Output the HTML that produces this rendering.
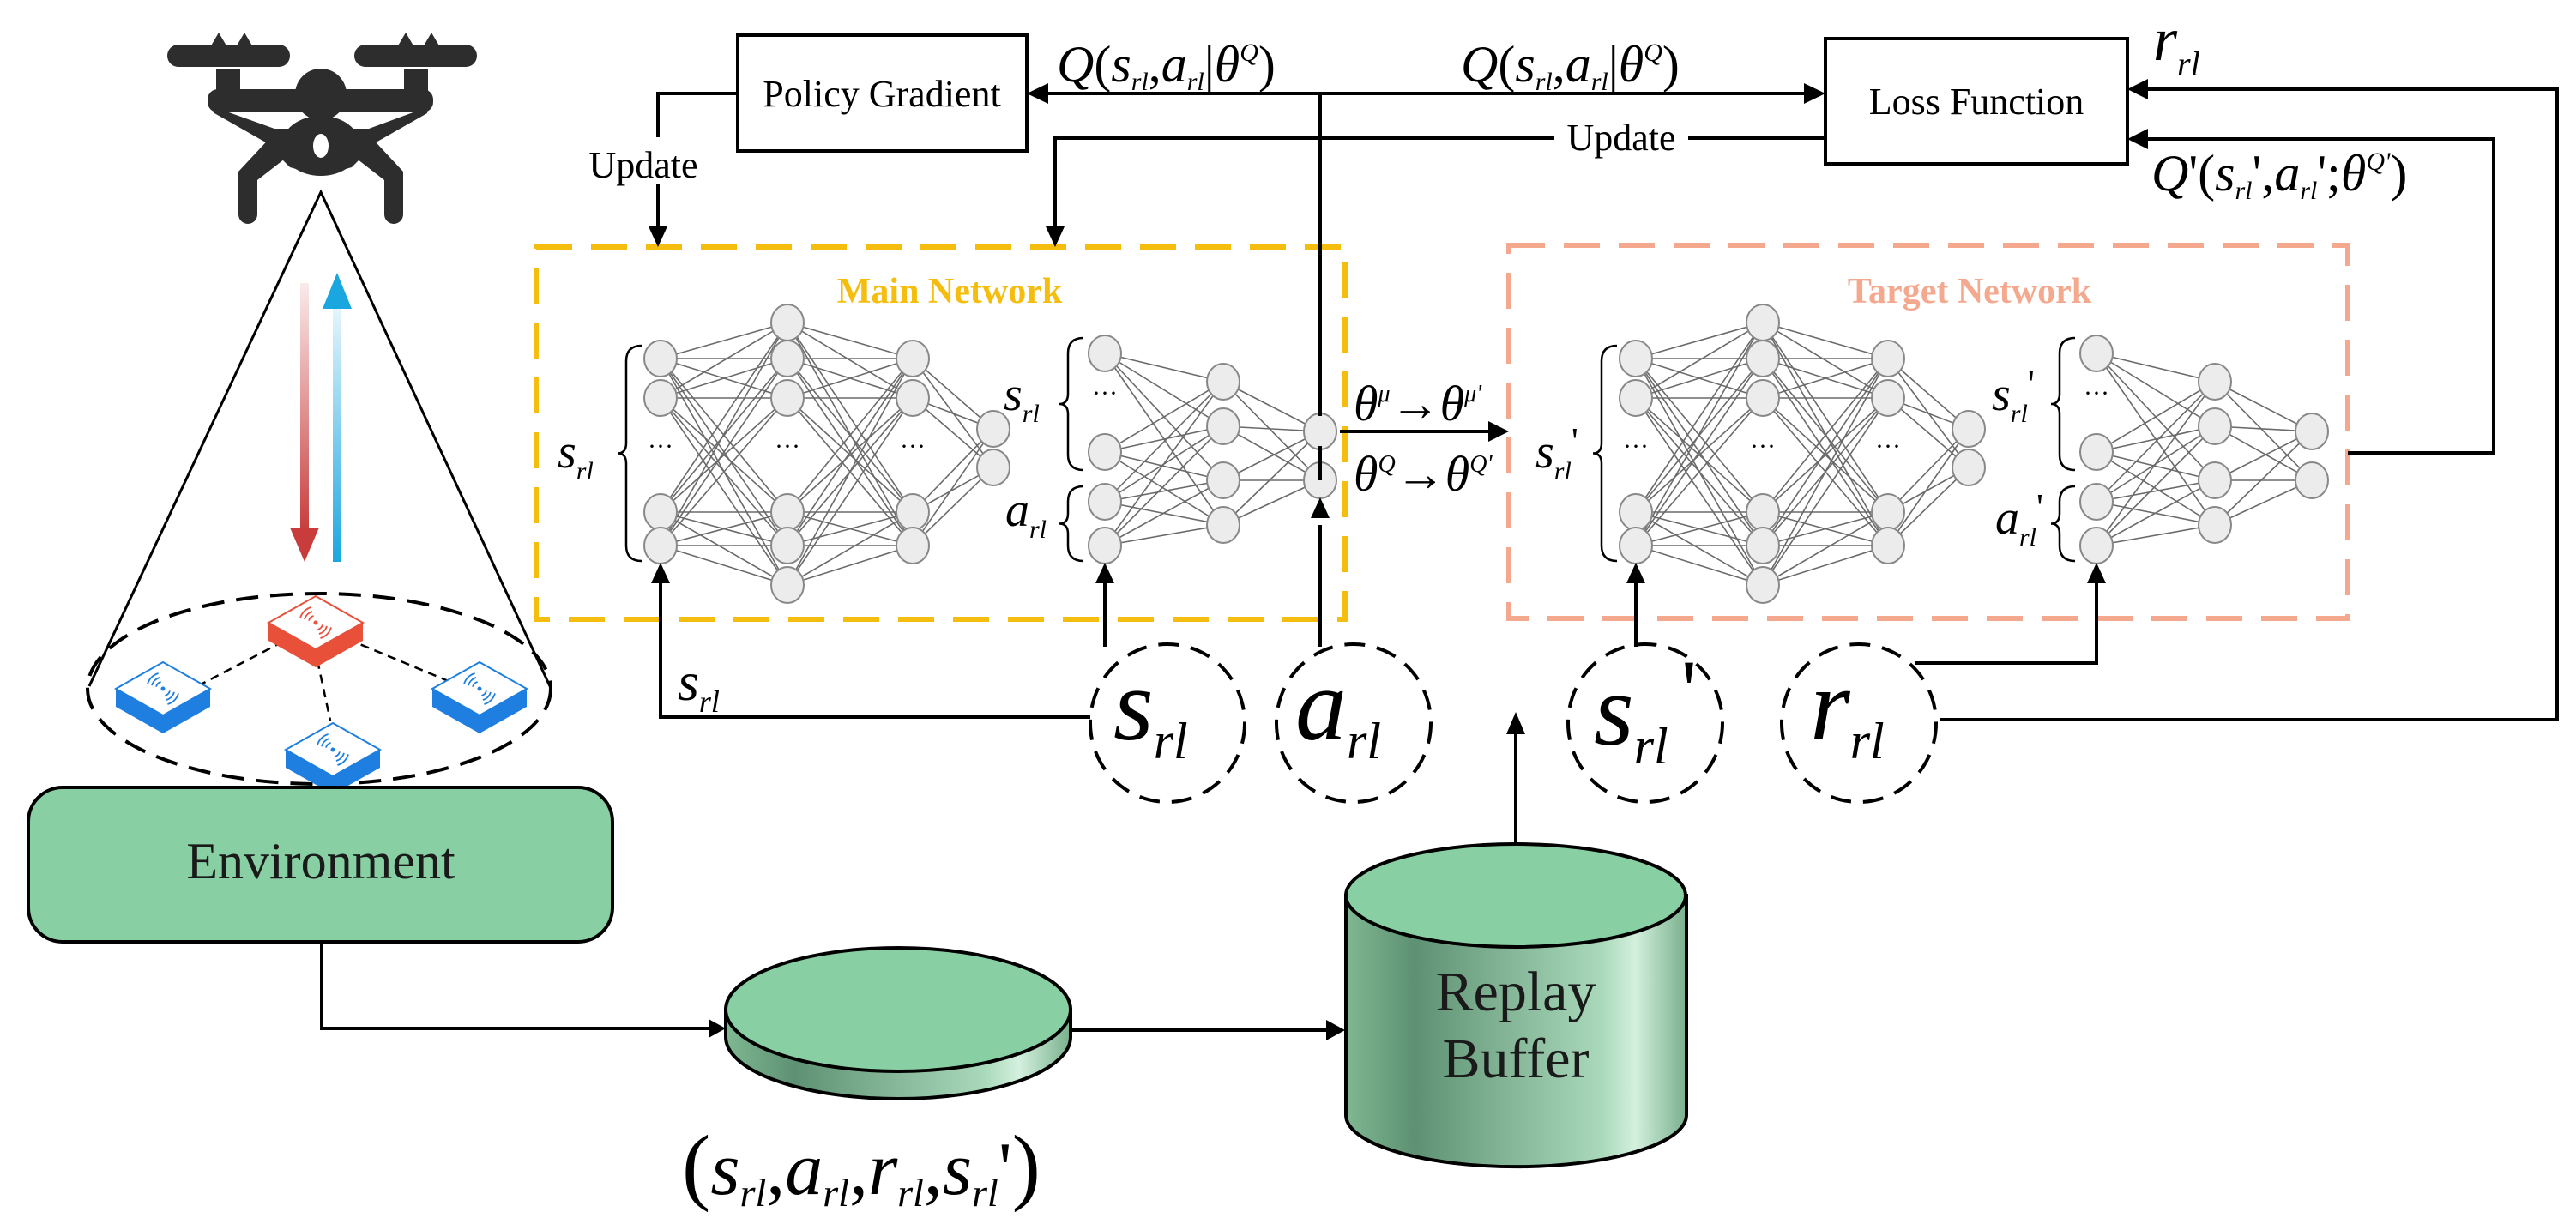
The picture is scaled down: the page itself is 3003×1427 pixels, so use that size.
<!DOCTYPE html>
<html><head><meta charset="utf-8"><style>
html,body{margin:0;padding:0;background:#fff;}
svg{display:block;}
text{font-family:"Liberation Serif",serif;}
.m{font-style:italic;}
</style></head><body>
<svg id="s" xmlns="http://www.w3.org/2000/svg" width="3003" height="1427" viewBox="0 0 3003 1427" font-family="Liberation Serif, serif">
<defs>
<linearGradient id="cyl" x1="0" x2="1" y1="0" y2="0">
<stop offset="0" stop-color="#7fb892"/><stop offset="0.2" stop-color="#5e9173"/><stop offset="0.75" stop-color="#a9d9ba"/><stop offset="0.85" stop-color="#d4f0de"/><stop offset="1" stop-color="#78b08c"/>
</linearGradient>
<linearGradient id="redA" x1="0" y1="0" x2="0" y2="1"><stop offset="0" stop-color="#c83c3c" stop-opacity="0.1"/><stop offset="1" stop-color="#c83c3c"/></linearGradient>
<linearGradient id="blueA" x1="0" y1="1" x2="0" y2="0"><stop offset="0" stop-color="#1aa7e0" stop-opacity="0.1"/><stop offset="1" stop-color="#1aa7e0"/></linearGradient>
</defs>

<!-- drone -->
<g fill="#2d2d2d">
<rect x="195" y="52" width="143" height="26" rx="13"/>
<rect x="413" y="52" width="143" height="26" rx="13"/>
<path d="M245 55 L255 38 L265 55 Z M275 55 L285 38 L295 55 Z M463 55 L473 38 L483 55 Z M493 55 L503 38 L513 55 Z"/>
<rect x="252" y="80" width="28" height="30"/>
<rect x="471" y="80" width="28" height="30"/>
<ellipse cx="374" cy="110" rx="30" ry="30"/>
<rect x="242" y="104" width="263" height="27" rx="12"/>
<path d="M250 125 L320 150 L350 150 L400 150 L430 150 L498 125 L498 132 L440 165 L410 195 L374 205 L338 195 L308 165 L250 132 Z"/>
<ellipse cx="374" cy="170" rx="46" ry="35"/>
<path d="M320 155 L278 200 L278 250 A11 11 0 0 0 300 250 L300 210 L345 175 Z"/>
<path d="M428 155 L470 200 L470 250 A11 11 0 0 1 448 250 L448 210 L403 175 Z"/>
</g>
<ellipse cx="374" cy="170" rx="9" ry="14" fill="#fff"/>

<!-- cone -->
<path d="M104 800 L374 224 L641 800" fill="none" stroke="#000" stroke-width="3"/>
<ellipse cx="372" cy="803" rx="270" ry="111" fill="none" stroke="#000" stroke-width="4" stroke-dasharray="26,14"/>
<rect x="350" y="330" width="10" height="290" fill="url(#redA)"/>
<path d="M338 615 L372 615 L355 655 Z" fill="#c83c3c"/>
<rect x="388" y="355" width="10" height="300" fill="url(#blueA)" transform="rotate(180 393 505)"/>
<path d="M376 360 L410 360 L393 318 Z" fill="#1aa7e0"/>

<g stroke="#000" stroke-width="2.5" stroke-dasharray="10,7" fill="none">
<line x1="330" y1="748" x2="230" y2="800"/>
<line x1="405" y1="745" x2="525" y2="795"/>
<line x1="370" y1="770" x2="385" y2="840"/>
</g>
<g id="devs"></g>

<!-- environment -->
<rect x="33" y="918" width="681" height="180" rx="40" fill="#88cfa3" stroke="#000" stroke-width="4"/>
<text x="374" y="1024" font-size="60" text-anchor="middle" fill="#1a1a1a">Environment</text>

<path d="M375 1098 L375 1199 L830 1199" fill="none" stroke="#000" stroke-width="4"/>
<path d="M846 1199 L826 1188 L826 1210 Z"/>
<path d="M846 1177 L846 1209 A201 72 0 0 0 1248 1209 L1248 1177 Z" fill="url(#cyl)" stroke="#000" stroke-width="4"/>
<ellipse cx="1047" cy="1177" rx="201" ry="72" fill="#88cfa3" stroke="#000" stroke-width="4"/>
<path d="M1250 1201 L1550 1201" stroke="#000" stroke-width="4"/>
<path d="M1568 1201 L1546 1189 L1546 1213 Z"/>
<path d="M1569 1044 L1569 1300 A198 60 0 0 0 1966 1300 L1966 1044 Z" fill="url(#cyl)" stroke="#000" stroke-width="4"/>
<ellipse cx="1767" cy="1044" rx="198" ry="60" fill="#88cfa3" stroke="#000" stroke-width="4"/>
<text x="1767" y="1178" font-size="66" text-anchor="middle" fill="#1a1a1a">Replay</text>
<text x="1767" y="1256" font-size="66" text-anchor="middle" fill="#1a1a1a">Buffer</text>
<path d="M1767 984 L1767 850" stroke="#000" stroke-width="4"/>
<path d="M1767 830 L1756 856 L1778 856 Z"/>

<text x="795" y="1392" font-size="88"><tspan font-size="100">(</tspan><tspan class="m">s</tspan><tspan class="m" font-size="46" dy="14">rl</tspan><tspan dy="-14">,</tspan><tspan class="m">a</tspan><tspan class="m" font-size="46" dy="14">rl</tspan><tspan dy="-14">,</tspan><tspan class="m">r</tspan><tspan class="m" font-size="46" dy="14">rl</tspan><tspan dy="-14">,</tspan><tspan class="m">s</tspan><tspan class="m" font-size="46" dy="14">rl</tspan><tspan dy="-14">'</tspan><tspan font-size="100">)</tspan></text>

<rect x="625" y="288" width="943" height="434" fill="none" stroke="#f5be0e" stroke-width="6" stroke-dasharray="42,22"/>
<text x="1107" y="353" font-size="42" font-weight="bold" text-anchor="middle" fill="#f5be0e">Main Network</text>
<rect x="1759" y="286" width="978" height="435" fill="none" stroke="#f4a98f" stroke-width="6" stroke-dasharray="42,22"/>
<text x="2296" y="353" font-size="42" font-weight="bold" text-anchor="middle" fill="#f4a98f">Target Network</text>
<g id="nets"></g>

<rect x="860" y="41" width="337" height="135" fill="#fff" stroke="#000" stroke-width="4"/>
<text x="1028" y="124" font-size="44" text-anchor="middle">Policy Gradient</text>
<rect x="2128" y="45" width="352" height="146" fill="#fff" stroke="#000" stroke-width="4"/>
<text x="2304" y="133" font-size="44" text-anchor="middle">Loss Function</text>

<g stroke="#000" stroke-width="4" fill="none">
<path d="M1539 485 L1539 109"/>
<path d="M1215 109 L2110 109"/>
<path d="M2128 161 L1968 161 M1812 161 L1230 161 L1230 268"/>
<path d="M860 109 L767 109 L767 160 M767 215 L767 268"/>
<path d="M2498 104 L2981 104 L2981 839 L2262 839"/>
<path d="M2498 162 L2907 162 L2907 528 L2737 528"/>
<path d="M1562 503 L1740 503"/>
<path d="M1271 836 L770 836 L770 675"/>
<path d="M1288 754 L1288 675"/>
<path d="M1539 754 L1539 612 M1539 560 L1539 520"/>
<path d="M1907 754 L1907 675"/>
<path d="M2233 773 L2444 773 L2444 675"/>
</g>
<g fill="#000">
<path d="M1197 109 L1222 97 L1222 121 Z"/>
<path d="M2128 109 L2103 97 L2103 121 Z"/>
<path d="M1230 288 L1219 264 L1241 264 Z"/>
<path d="M767 288 L756 264 L778 264 Z"/>
<path d="M2480 104 L2504 92 L2504 116 Z"/>
<path d="M2480 162 L2504 150 L2504 174 Z"/>
<path d="M1759 503 L1735 491 L1735 515 Z"/>
<path d="M770 656 L759 680 L781 680 Z"/>
<path d="M1288 656 L1277 680 L1299 680 Z"/>
<path d="M1539 580 L1528 604 L1550 604 Z"/>
<path d="M1907 656 L1896 680 L1918 680 Z"/>
<path d="M2444 656 L2433 680 L2455 680 Z"/>
</g>
<text x="1890" y="175" font-size="44" text-anchor="middle">Update</text>
<text x="750" y="207" font-size="44" text-anchor="middle">Update</text>

<g font-size="60">
<text x="1232" y="95"><tspan class="m">Q</tspan>(<tspan class="m">s</tspan><tspan class="m" font-size="30" dy="10">rl</tspan><tspan dy="-10">,</tspan><tspan class="m">a</tspan><tspan class="m" font-size="30" dy="10">rl</tspan><tspan dy="-10">|</tspan><tspan class="m">θ</tspan><tspan class="m" font-size="30" dy="-24">Q</tspan><tspan dy="24">)</tspan></text>
<text x="1703" y="95"><tspan class="m">Q</tspan>(<tspan class="m">s</tspan><tspan class="m" font-size="30" dy="10">rl</tspan><tspan dy="-10">,</tspan><tspan class="m">a</tspan><tspan class="m" font-size="30" dy="10">rl</tspan><tspan dy="-10">|</tspan><tspan class="m">θ</tspan><tspan class="m" font-size="30" dy="-24">Q</tspan><tspan dy="24">)</tspan></text>
<text x="2510" y="70"><tspan class="m" font-size="72">r</tspan><tspan class="m" font-size="40" dy="18">rl</tspan></text>
<text x="2508" y="222"><tspan class="m">Q</tspan>'(<tspan class="m">s</tspan><tspan class="m" font-size="30" dy="10">rl</tspan><tspan dy="-10">',</tspan><tspan class="m">a</tspan><tspan class="m" font-size="30" dy="10">rl</tspan><tspan dy="-10">';</tspan><tspan class="m">θ</tspan><tspan class="m" font-size="30" dy="-24">Q'</tspan><tspan dy="24">)</tspan></text>
</g>
<g font-size="58">
<text x="1578" y="490"><tspan class="m">θ</tspan><tspan class="m" font-size="28" dy="-22">μ</tspan><tspan dy="22">→</tspan><tspan class="m">θ</tspan><tspan class="m" font-size="28" dy="-22">μ'</tspan></text>
<text x="1578" y="572"><tspan class="m">θ</tspan><tspan class="m" font-size="28" dy="-22">Q</tspan><tspan dy="22">→</tspan><tspan class="m">θ</tspan><tspan class="m" font-size="28" dy="-22">Q'</tspan></text>
</g>
<text x="790" y="816" font-size="64"><tspan class="m">s</tspan><tspan class="m" font-size="36" dy="14">rl</tspan></text>

<g fill="none" stroke="#000" stroke-width="4" stroke-dasharray="24,14">
<ellipse cx="1361" cy="843" rx="90" ry="92"/>
<ellipse cx="1578" cy="843" rx="90" ry="92"/>
<ellipse cx="1918" cy="843" rx="90" ry="92"/>
<ellipse cx="2167" cy="843" rx="90" ry="92"/>
</g>
<g font-family="Liberation Serif, serif" style="font-family:'Liberation Serif',serif;font-style:italic">
<text x="1298" y="862" font-size="120">s<tspan font-size="60" dy="22">rl</tspan></text>
<text x="1510" y="862" font-size="120">a<tspan font-size="60" dy="22">rl</tspan></text>
<text x="1858" y="868" font-size="120">s<tspan font-size="60" dy="22">rl</tspan></text>
<text x="2110" y="862" font-size="120">r<tspan font-size="60" dy="22">rl</tspan></text>
</g>
<text x="1960" y="838" font-size="100" style="font-family:'Liberation Serif',serif">'</text>
</svg>
<script>
(function(){
var NS="http://www.w3.org/2000/svg";
function el(p,t,a,txt){var e=document.createElementNS(NS,t);for(var k in a)e.setAttribute(k,a[k]);if(txt)e.textContent=txt;p.appendChild(e);return e;}
var nets=document.getElementById('nets');
var R=19;
function net(layers,dots,dx){
  var g=el(nets,'g',{});
  for(var i=0;i<layers.length-1;i++){
    var A=layers[i],B=layers[i+1];
    A.ys.forEach(function(y1){B.ys.forEach(function(y2){
      el(g,'line',{x1:A.x+dx,y1:y1,x2:B.x+dx,y2:y2,stroke:'#6a6a6a','stroke-width':1.6});
    });});
  }
  layers.forEach(function(L){L.ys.forEach(function(y){
    el(g,'ellipse',{cx:L.x+dx,cy:y,rx:R,ry:R+2,fill:'#ececec',stroke:'#888','stroke-width':2});
  });});
  dots.forEach(function(d){el(g,'text',{x:d[0]+dx,y:d[1],'font-size':30,'text-anchor':'middle'},'···');});
}
var actor=[{x:770,ys:[418,464,597,636]},{x:918,ys:[376,418,464,597,636,682]},{x:1064,ys:[418,464,597,636]},{x:1158,ys:[500,545]}];
var critic=[{x:1288,ys:[412,527,585,636]},{x:1426,ys:[445,497,560,612]},{x:1539,ys:[503,560]}];
net(actor,[[770,530],[918,530],[1064,530]],0);
net(critic,[[1288,468]],0);
net(actor,[[770,530],[918,530],[1064,530]],1137);
net(critic,[[1288,468]],1156);
function brace(x,y1,y2){
  var m=(y1+y2)/2;
  el(nets,'path',{d:'M'+(x+18)+' '+y1+' Q'+x+' '+y1+' '+x+' '+(y1+18)+' L'+x+' '+(m-12)+' Q'+x+' '+m+' '+(x-10)+' '+m+' Q'+x+' '+m+' '+x+' '+(m+12)+' L'+x+' '+(y2-18)+' Q'+x+' '+y2+' '+(x+18)+' '+y2,fill:'none',stroke:'#000','stroke-width':2.5});
}
brace(730,403,654);brace(1245,394,548);brace(1245,567,654);
brace(1867,403,654);brace(2401,394,548);brace(2401,567,654);
function lab(x,y,c,p){var t=el(nets,'text',{x:x,y:y,'font-size':56,'font-style':'italic'});
 var a=document.createElementNS(NS,'tspan');a.textContent=c;t.appendChild(a);
 var b=document.createElementNS(NS,'tspan');b.setAttribute('font-size',30);b.setAttribute('dy',14);b.textContent='rl';t.appendChild(b);
 if(p){var q=document.createElementNS(NS,'tspan');q.setAttribute('dy',-30);q.setAttribute('font-size',44);q.setAttribute('font-style','normal');q.textContent="'";t.appendChild(q);}
}
lab(650,545,'s');lab(1170,478,'s');lab(1172,613,'a');
lab(1790,545,'s',1);lab(2322,478,'s',1);lab(2326,622,'a',1);
var devs=document.getElementById('devs');
function dev(cx,ty,col){
  var w=55,h=31,d=21;
  el(devs,'path',{d:'M'+(cx-w)+' '+(ty+h)+' L'+cx+' '+(ty+2*h)+' L'+(cx+w)+' '+(ty+h)+' L'+(cx+w)+' '+(ty+h+d)+' L'+cx+' '+(ty+2*h+d)+' L'+(cx-w)+' '+(ty+h+d)+' Z',fill:col});
  el(devs,'path',{d:'M'+cx+' '+ty+' L'+(cx+w)+' '+(ty+h)+' L'+cx+' '+(ty+2*h)+' L'+(cx-w)+' '+(ty+h)+' Z',fill:'#fff',stroke:col,'stroke-width':2});
  var c=ty+h;
  el(devs,'circle',{cx:cx,cy:c,r:2.5,fill:col});
  [8,13,18].forEach(function(r){
    el(devs,'path',{d:'M'+(cx-r)+' '+(c-r*0.3)+' A'+r+' '+r+' 0 0 1 '+(cx-r*0.3)+' '+(c-r),fill:'none',stroke:col,'stroke-width':1.8});
    el(devs,'path',{d:'M'+(cx+r)+' '+(c+r*0.3)+' A'+r+' '+r+' 0 0 1 '+(cx+r*0.3)+' '+(c+r),fill:'none',stroke:col,'stroke-width':1.8});
  });
}
dev(368,695,'#e8503a');dev(190,772,'#1e7fe0');dev(559,772,'#1e7fe0');dev(388,843,'#1e7fe0');
})();
</script>
</body></html>
